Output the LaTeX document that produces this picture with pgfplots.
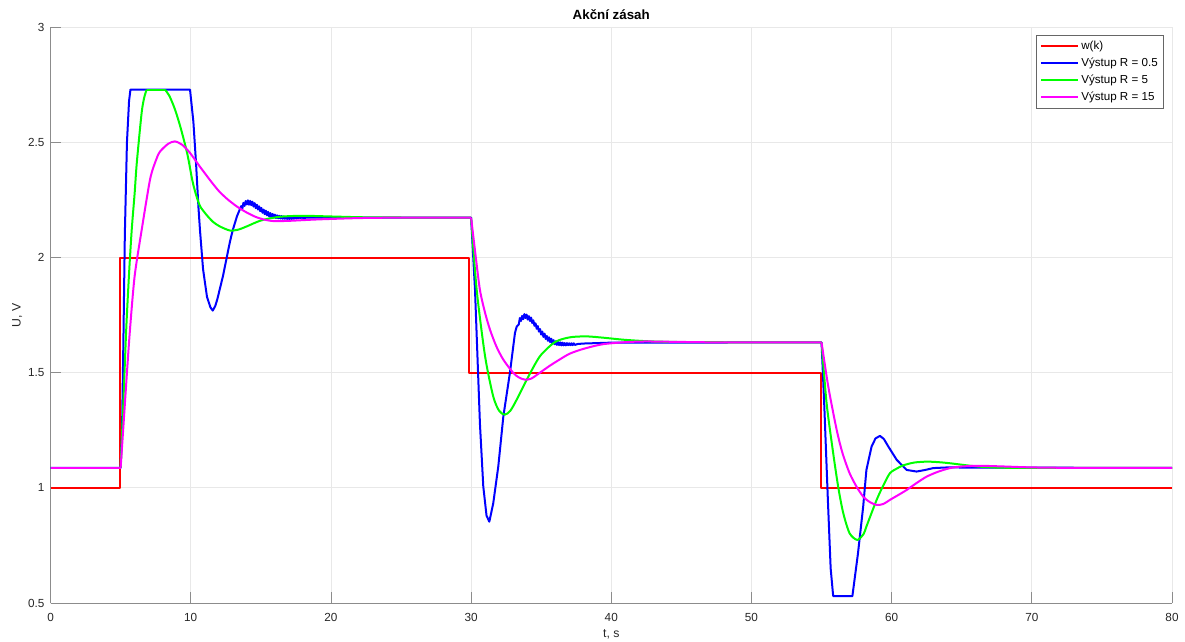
\documentclass[border=0pt]{standalone}
\usepackage{pgfplots}
\pgfplotsset{compat=1.18}
\usepackage{fontspec}
\setmainfont{Liberation Sans}
\definecolor{tickc}{rgb}{0.15,0.15,0.15}
\definecolor{cred}{rgb}{1,0,0}
\definecolor{cblue}{rgb}{0,0,1}
\definecolor{cgreen}{rgb}{0,1,0}
\definecolor{cmag}{rgb}{1,0,1}
\begin{document}
\begin{tikzpicture}
\begin{axis}[
  scale only axis,
  width=841pt, height=431.6pt,
  xmin=0, xmax=80, ymin=0.5, ymax=3,
  xtick={0,10,...,80},
  ytick={0.5,1,1.5,2,2.5,3},
  yticklabels={0.5,1,1.5,2,2.5,3},
  axis x line=bottom, axis y line=left,
  axis line style={-, draw=black!45, line width=0.6pt},
  every inner x axis line/.append style={-},
  every outer x axis line/.append style={-},
  every inner y axis line/.append style={-},
  every outer y axis line/.append style={-},
  tick align=inside,
  major tick length=8pt,
  tick style={draw=black!45, line width=0.6pt},
  grid=major,
  major grid style={draw=black!9, line width=0.6pt},
  /pgf/number format/assume math mode=true,
  ticklabel style={font=\fontsize{8.8}{10}\selectfont, text=tickc},
  xticklabel style={yshift=-4pt},
  yticklabel style={xshift=-1pt},
  every axis title shift=0pt,
  title={Akční zásah},
  title style={at={(axis description cs:0.5,1.0225)}, anchor=center, font=\bfseries\fontsize{10}{12}\selectfont, text=black},
  xlabel={t, s},
  xlabel style={at={(axis description cs:0.5,-0.054)}, anchor=center, font=\fontsize{9.2}{11}\selectfont, text=tickc},
  ylabel={U, V},
  ylabel style={at={(axis description cs:-0.0297,0.5)}, anchor=center, font=\fontsize{9.2}{11}\selectfont, text=tickc},
  legend style={at={(axis description cs:0.9929,0.987)}, anchor=north east,
    draw=black!60, fill=white, line width=0.5pt,
    font=\fontsize{8.7}{10}\selectfont,
    inner xsep=3pt, inner ysep=2.2pt,
    nodes={inner sep=1.5pt, text height=6.6pt, text depth=1.9pt},
    row sep=1.4pt},
  legend cell align=left,
  legend image code/.code={\draw[#1, line width=1.5pt] (0pt,0pt) -- (28pt,0pt);},
  every axis plot/.append style={line width=1.5pt, line join=round},
]
% reference w(k)
\addplot[cred] coordinates {(0,1)(4.96,1)(4.96,2)(29.88,2)(29.88,1.5)(54.98,1.5)(54.98,1)(80,1)};
\addlegendentry{w(k)}
% R = 0.5
\addplot[cblue] coordinates {
(0,1.087)(5.0,1.087)(5.1,1.25)(5.2,1.65)(5.3,2.1)(5.45,2.5)(5.6,2.68)(5.7,2.73)(9.95,2.73)
(10.19,2.59)(10.38,2.41)(10.55,2.22)(10.66,2.12)(10.88,1.95)(11.16,1.83)(11.4,1.785)(11.57,1.77)
(11.75,1.79)(11.9,1.82)(12.3,1.92)(12.8,2.07)(13.0,2.12)(13.3,2.18)
(13.60,2.224)(13.68,2.213)(13.76,2.238)(13.84,2.225)(13.92,2.246)(14.00,2.231)(14.08,2.249)
(14.16,2.230)(14.24,2.247)(14.32,2.228)(14.40,2.243)(14.48,2.222)(14.56,2.237)(14.64,2.215)
(14.72,2.230)(14.80,2.209)(14.88,2.223)(14.96,2.202)(15.04,2.216)(15.12,2.195)(15.20,2.209)
(15.28,2.189)(15.36,2.204)(15.44,2.184)(15.52,2.199)(15.60,2.179)(15.68,2.194)(15.76,2.176)
(15.84,2.190)(15.92,2.174)(16.00,2.187)(16.08,2.172)(16.16,2.184)(16.24,2.171)(16.32,2.182)
(16.40,2.170)(16.48,2.181)(16.56,2.169)(16.64,2.179)(16.72,2.169)(16.80,2.178)(16.88,2.168)
(16.96,2.177)(17.04,2.168)(17.12,2.176)(17.20,2.168)(17.28,2.176)(17.36,2.169)(17.44,2.176)
(17.52,2.170)(17.60,2.176)(17.68,2.171)(17.76,2.175)(17.84,2.172)(17.92,2.175)(18.0,2.173)
(18.5,2.174)(30.0,2.174)
(30.28,1.86)(30.63,1.28)(30.87,1.006)(31.1,0.88)(31.3,0.853)(31.58,0.933)(31.94,1.093)
(32.3,1.31)(32.77,1.50)(33.13,1.673)(33.25,1.70)
(33.40,1.710)(33.48,1.738)(33.56,1.725)(33.64,1.747)(33.72,1.733)(33.80,1.755)(33.88,1.738)
(33.96,1.753)(34.04,1.731)(34.12,1.746)(34.20,1.725)(34.28,1.740)(34.36,1.716)(34.44,1.728)
(34.52,1.704)(34.60,1.715)(34.68,1.691)(34.76,1.703)(34.84,1.679)(34.92,1.690)(35.00,1.666)
(35.08,1.679)(35.16,1.656)(35.24,1.670)(35.32,1.647)(35.40,1.660)(35.48,1.639)(35.56,1.654)
(35.64,1.633)(35.72,1.648)(35.80,1.627)(35.88,1.642)(35.96,1.624)(36.04,1.637)(36.12,1.621)
(36.20,1.634)(36.28,1.620)(36.36,1.632)(36.44,1.619)(36.52,1.631)(36.60,1.619)(36.68,1.629)
(36.76,1.619)(36.84,1.629)(36.92,1.620)(37.00,1.628)(37.08,1.620)(37.16,1.628)(37.24,1.620)
(37.32,1.628)(37.40,1.621)(37.6,1.625)(38.0,1.627)(39,1.629)(40,1.631)(55.0,1.632)
(55.2,1.35)(55.45,0.95)(55.65,0.65)(55.83,0.53)(57.2,0.53)(57.6,0.716)(57.97,0.919)(58.2,1.078)
(58.57,1.18)(58.85,1.215)(59.17,1.226)(59.45,1.212)(59.76,1.18)(60.36,1.122)(61.07,1.078)
(61.78,1.071)(62.4,1.078)(62.97,1.086)(64,1.089)(66,1.088)(80,1.087)};
\addlegendentry{Výstup R = 0.5}
% R = 5
\addplot[cgreen] coordinates {(0,1.087)(5.0,1.087)};
\addlegendentry{Výstup R = 5}
\addplot[cgreen, smooth, tension=0.45, forget plot] coordinates {
(5.0,1.087)(5.2,1.38)(5.4,1.69)(5.6,1.93)(5.79,2.12)(6.0,2.28)(6.15,2.41)(6.5,2.63)
(6.7,2.70)(6.86,2.73)};
\addplot[cgreen, forget plot] coordinates {(6.86,2.73)(8.17,2.73)};
\addplot[cgreen, smooth, tension=0.45, forget plot] coordinates {
(8.17,2.73)(8.5,2.70)(8.9,2.64)(9.3,2.56)(9.76,2.45)(10.1,2.34)(10.3,2.29)
(10.5,2.25)(10.7,2.22)(11.14,2.185)(11.6,2.155)(12.1,2.135)(12.8,2.118)(13.4,2.122)(14.0,2.136)
(14.6,2.152)(15.2,2.165)(16.4,2.178)(18,2.182)(20,2.179)(23,2.175)(30,2.174)};
\addplot[cgreen, smooth, tension=0.45, forget plot] coordinates {(30,2.174)
(30.4,1.86)(31.0,1.571)(31.58,1.397)(32.0,1.335)(32.4,1.318)(32.8,1.335)(33.25,1.383)(33.97,1.47)
(34.9,1.571)(35.9,1.63)(36.6,1.648)(37.3,1.656)(38.3,1.658)(39.5,1.652)(41,1.643)(43,1.636)
(46,1.633)(55.0,1.632)};
\addplot[cgreen, smooth, tension=0.45, forget plot] coordinates {(55.0,1.632)
(55.36,1.368)(55.83,1.151)(56.2,1.0)(56.55,0.89)(57.0,0.803)(57.55,0.774)(58.0,0.80)(58.2,0.832)
(58.93,0.948)(59.4,1.01)(59.88,1.064)(60.4,1.085)(60.83,1.098)(61.6,1.11)(62.5,1.114)(63.3,1.112)
(64.16,1.107)(66.1,1.093)(67.7,1.088)(70,1.087)(80,1.087)};
% R = 15
\addplot[cmag] coordinates {(0,1.087)(5.0,1.087)};
\addlegendentry{Výstup R = 15}
\addplot[cmag, smooth, tension=0.45, forget plot] coordinates {
(5.0,1.087)(5.2,1.27)(5.45,1.5)(5.67,1.69)(6.0,1.92)(6.5,2.12)(7.1,2.34)(7.5,2.42)
(7.8,2.46)(8.4,2.495)(8.88,2.505)(9.4,2.49)(9.95,2.455)(10.6,2.40)(11.4,2.335)(12.0,2.29)
(12.6,2.255)(13.3,2.222)(14.0,2.196)(14.6,2.178)(15.2,2.166)(15.9,2.159)(17,2.16)(19,2.166)
(22,2.172)(25,2.174)(30,2.174)};
\addplot[cmag, smooth, tension=0.45, forget plot] coordinates {(30,2.174)
(30.3,2.02)(30.63,1.86)(31.0,1.76)(31.35,1.687)(31.8,1.615)(32.3,1.557)(33.0,1.50)(33.4,1.48)
(33.85,1.47)(34.3,1.475)(34.9,1.50)(35.6,1.53)(36.3,1.557)(37.0,1.582)(37.8,1.60)(38.7,1.615)
(39.5,1.625)(41,1.633)(42.5,1.636)(45,1.634)(48,1.632)(55,1.632)};
\addplot[cmag, smooth, tension=0.45, forget plot] coordinates {(55,1.632)
(55.48,1.44)(56.08,1.252)(56.5,1.15)(57.0,1.064)(57.5,1.005)(57.97,0.962)(58.4,0.94)(58.93,0.926)
(59.4,0.93)(59.88,0.948)(60.5,0.97)(61.07,0.991)(61.8,1.022)(62.5,1.049)(63.3,1.07)(64.16,1.086)
(65,1.093)(66.3,1.096)(68,1.093)(70,1.089)(73,1.087)(80,1.087)};
\end{axis}
\pgfresetboundingbox
\path ([shift={(-37.9pt,-28.5pt)}]current axis.south west) rectangle ([shift={(9.75pt,20.6pt)}]current axis.north east);
\end{tikzpicture}
\end{document}
